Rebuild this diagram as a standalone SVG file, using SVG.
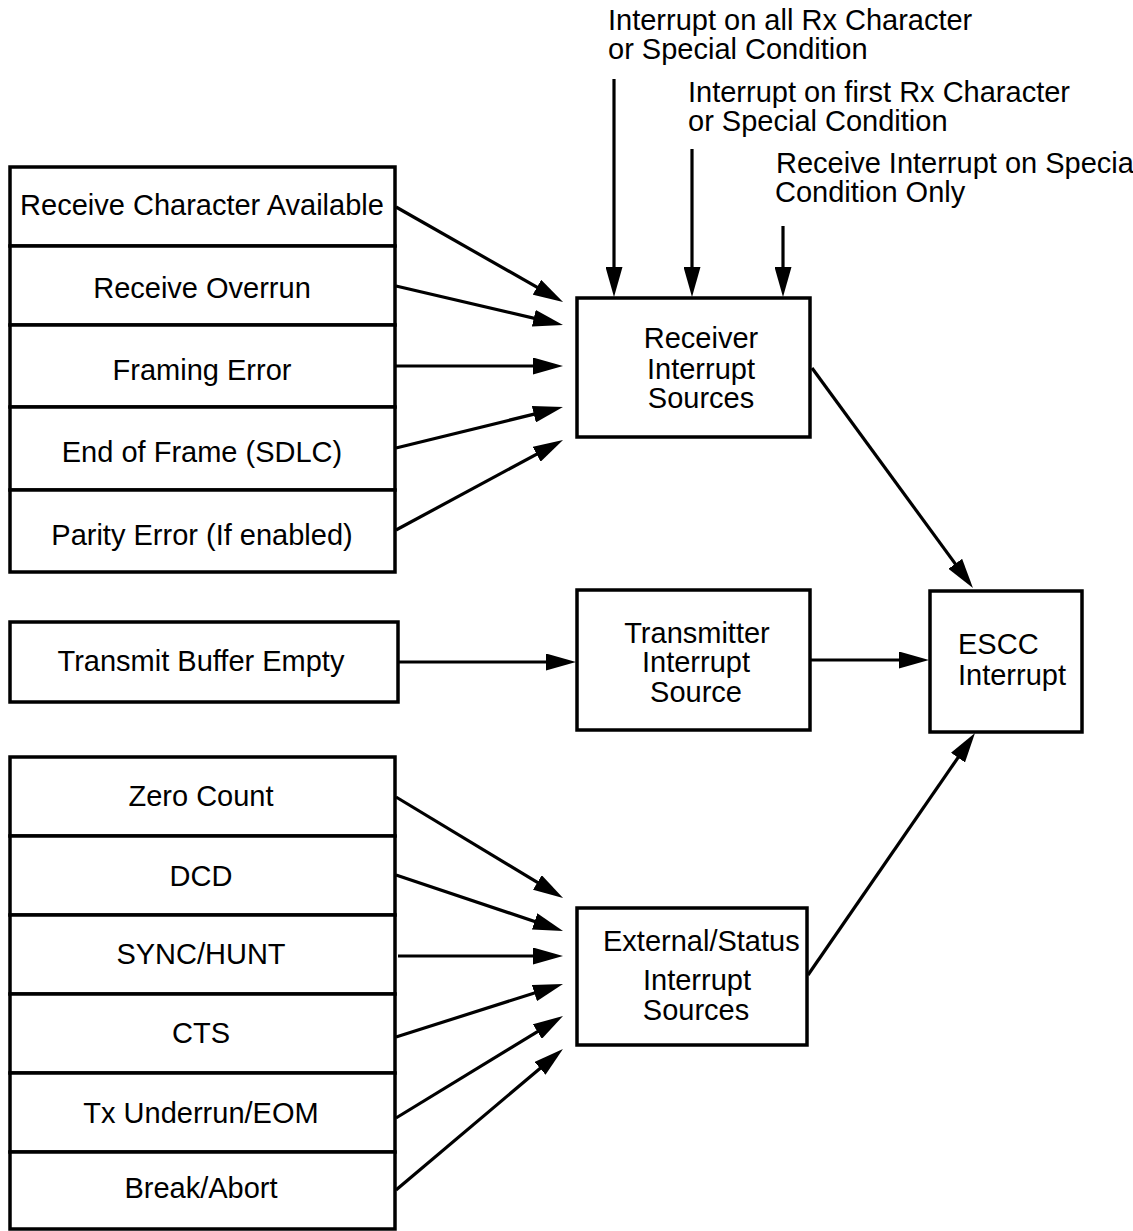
<svg xmlns="http://www.w3.org/2000/svg" width="1133" height="1231" viewBox="0 0 1133 1231">
<defs>
<style>
.box{fill:#fff;stroke:#000;stroke-width:3.5}
.t{font-family:"Liberation Sans",Arial,sans-serif;font-size:29px;fill:#000}
.c{text-anchor:middle}
.ln{stroke:#000;stroke-width:3.2;fill:none;marker-end:url(#ah)}
</style>
<marker id="ah" markerUnits="userSpaceOnUse" markerWidth="30" markerHeight="17" refX="15" refY="8.5" orient="auto">
<path d="M0,0 L30,8.5 L0,17 z" fill="#000"/>
</marker>
</defs>
<rect width="1133" height="1231" fill="#fff"/>

<g id="connectors">
<line class="ln" x1="614" y1="79" x2="614" y2="282"/>
<line class="ln" x1="692" y1="149" x2="692" y2="282"/>
<line class="ln" x1="783" y1="226" x2="783" y2="282"/>
<line class="ln" x1="396" y1="207" x2="550" y2="294.6"/>
<line class="ln" x1="396" y1="286" x2="548.4" y2="321.6"/>
<line class="ln" x1="396" y1="366" x2="548" y2="366"/>
<line class="ln" x1="396" y1="448" x2="548.4" y2="410.6"/>
<line class="ln" x1="396" y1="530" x2="549.8" y2="447.1"/>
<line class="ln" x1="812" y1="368" x2="964.1" y2="575.9"/>
<line class="ln" x1="398" y1="662" x2="561" y2="662"/>
<line class="ln" x1="810" y1="660" x2="914" y2="660"/>
<line class="ln" x1="808" y1="975" x2="966.5" y2="745.3"/>
<line class="ln" x1="396" y1="797" x2="550.2" y2="890.2"/>
<line class="ln" x1="396" y1="875" x2="548.8" y2="926.2"/>
<line class="ln" x1="398" y1="956" x2="548" y2="956"/>
<line class="ln" x1="396" y1="1037" x2="548.7" y2="988.5"/>
<line class="ln" x1="396" y1="1118" x2="550.2" y2="1023.8"/>
<line class="ln" x1="396" y1="1190" x2="551.5" y2="1058.7"/>
<text class="t" x="608" y="30">Interrupt on all Rx Character<tspan x="608" y="59">or Special Condition</tspan></text>
<text class="t" x="688" y="102">Interrupt on first Rx Character<tspan x="688" y="131">or Special Condition</tspan></text>
<text class="t" x="776" y="173">Receive Interrupt on Special<tspan x="775" y="202">Condition Only</tspan></text>
</g>

<g id="rx-char-avail"><rect class="box" x="10" y="167" width="385" height="79"/><text class="t c" x="202" y="215">Receive Character Available</text></g>
<g id="rx-overrun"><rect class="box" x="10" y="246" width="385" height="79"/><text class="t c" x="202" y="298">Receive Overrun</text></g>
<g id="framing-error"><rect class="box" x="10" y="325" width="385" height="82"/><text class="t c" x="202" y="380">Framing Error</text></g>
<g id="end-of-frame"><rect class="box" x="10" y="407" width="385" height="83"/><text class="t c" x="202" y="462">End of Frame (SDLC)</text></g>
<g id="parity-error"><rect class="box" x="10" y="490" width="385" height="82"/><text class="t c" x="202" y="545">Parity Error (If enabled)</text></g>

<g id="receiver-sources"><rect class="box" x="577" y="298" width="233" height="139"/>
<text class="t c" x="701" y="348">Receiver<tspan x="701" y="379">Interrupt</tspan><tspan x="701" y="408">Sources</tspan></text></g>

<g id="tx-buffer-empty"><rect class="box" x="10" y="622" width="388" height="80"/><text class="t c" x="201" y="671">Transmit Buffer Empty</text></g>

<g id="transmitter-source"><rect class="box" x="577" y="590" width="233" height="140"/>
<text class="t c" x="697" y="643">Transmitter<tspan x="696" y="672">Interrupt</tspan><tspan x="696" y="702">Source</tspan></text></g>

<g id="escc-interrupt"><rect class="box" x="930" y="591" width="152" height="141"/>
<text class="t" x="958" y="654">ESCC<tspan x="958" y="685">Interrupt</tspan></text></g>

<g id="zero-count"><rect class="box" x="10" y="757" width="385" height="79"/><text class="t c" x="201" y="806">Zero Count</text></g>
<g id="dcd"><rect class="box" x="10" y="836" width="385" height="79"/><text class="t c" x="201" y="886">DCD</text></g>
<g id="sync-hunt"><rect class="box" x="10" y="915" width="385" height="79"/><text class="t c" x="201" y="964">SYNC/HUNT</text></g>
<g id="cts"><rect class="box" x="10" y="994" width="385" height="79"/><text class="t c" x="201" y="1043">CTS</text></g>
<g id="tx-underrun"><rect class="box" x="10" y="1073" width="385" height="79"/><text class="t c" x="201" y="1123">Tx Underrun/EOM</text></g>
<g id="break-abort"><rect class="box" x="10" y="1152" width="385" height="77"/><text class="t c" x="201" y="1198">Break/Abort</text></g>

<g id="ext-status-sources"><rect class="box" x="577" y="908" width="230" height="137"/>
<text class="t" x="603" y="951">External/Status</text>
<text class="t c" x="697" y="990">Interrupt<tspan x="696" y="1020">Sources</tspan></text></g>
</svg>
